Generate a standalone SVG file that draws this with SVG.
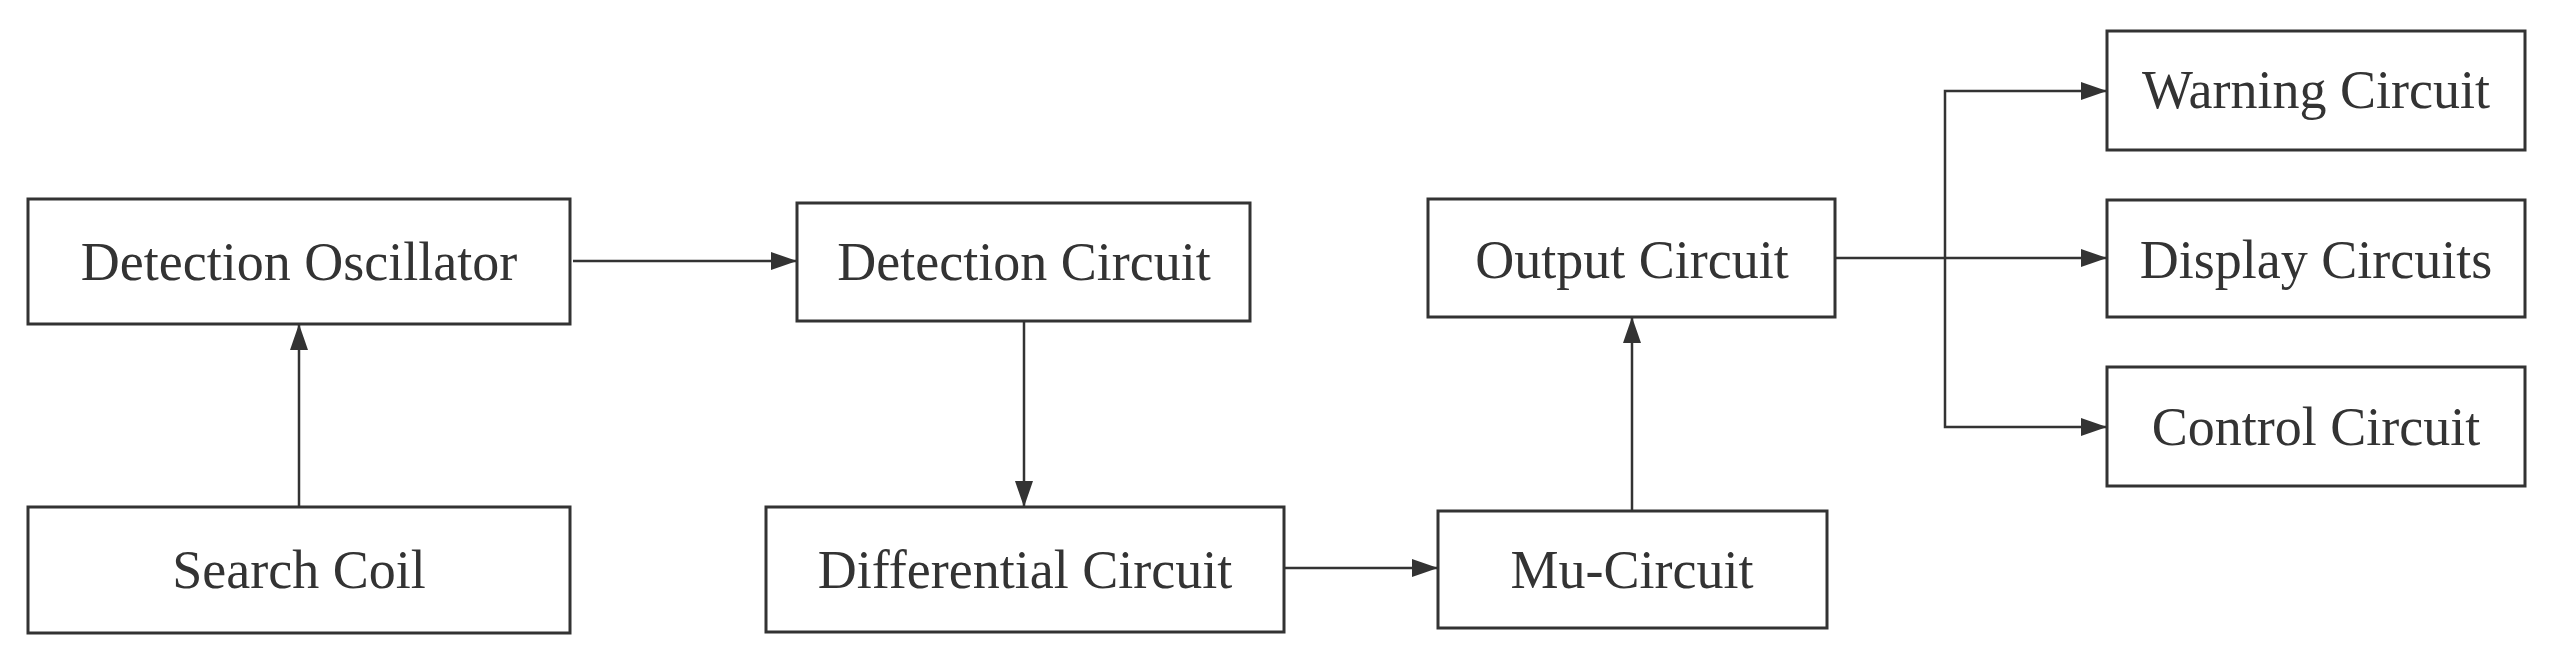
<svg xmlns="http://www.w3.org/2000/svg" width="2555" height="657" viewBox="0 0 2555 657">
<style>
.box{fill:#fff;stroke:#333;stroke-width:3}
.lbl{font-family:"Liberation Serif","Times New Roman",serif;font-size:54px;fill:#333;text-anchor:middle}
.con{fill:none;stroke:#333;stroke-width:2.5}
</style>
<defs>
<marker id="arr" markerUnits="userSpaceOnUse" markerWidth="26" markerHeight="18" refX="26" refY="9" orient="auto">
<path d="M0,0 L26,9 L0,18 z" fill="#333"/>
</marker>
</defs>
<rect width="2555" height="657" fill="#fff"/>
<g id="connectors">
<path class="con" d="M573,261 L797,261" marker-end="url(#arr)"/>
<path class="con" d="M299,507 L299,324" marker-end="url(#arr)"/>
<path class="con" d="M1024,321 L1024,507" marker-end="url(#arr)"/>
<path class="con" d="M1284,568 L1438,568" marker-end="url(#arr)"/>
<path class="con" d="M1632,511 L1632,317" marker-end="url(#arr)"/>
<path class="con" d="M1835,258 L2107,258" marker-end="url(#arr)"/>
<path class="con" d="M1945,258 L1945,91 L2107,91" marker-end="url(#arr)"/>
<path class="con" d="M1945,258 L1945,427 L2107,427" marker-end="url(#arr)"/>
</g>
<g id="detection-oscillator">
<rect class="box" x="28" y="199" width="542" height="125"/>
<text class="lbl" x="299" y="280">Detection Oscillator</text>
</g>
<g id="search-coil">
<rect class="box" x="28" y="507" width="542" height="126"/>
<text class="lbl" x="299" y="588">Search Coil</text>
</g>
<g id="detection-circuit">
<rect class="box" x="797" y="203" width="453" height="118"/>
<text class="lbl" x="1024" y="280">Detection Circuit</text>
</g>
<g id="differential-circuit">
<rect class="box" x="766" y="507" width="518" height="125"/>
<text class="lbl" x="1025" y="588">Differential Circuit</text>
</g>
<g id="mu-circuit">
<rect class="box" x="1438" y="511" width="389" height="117"/>
<text class="lbl" x="1632" y="588">Mu-Circuit</text>
</g>
<g id="output-circuit">
<rect class="box" x="1428" y="199" width="407" height="118"/>
<text class="lbl" x="1632" y="278">Output Circuit</text>
</g>
<g id="warning-circuit">
<rect class="box" x="2107" y="31" width="418" height="119"/>
<text class="lbl" x="2316" y="108">Warning Circuit</text>
</g>
<g id="display-circuits">
<rect class="box" x="2107" y="200" width="418" height="117"/>
<text class="lbl" x="2316" y="278">Display Circuits</text>
</g>
<g id="control-circuit">
<rect class="box" x="2107" y="367" width="418" height="119"/>
<text class="lbl" x="2316" y="445">Control Circuit</text>
</g>
</svg>
